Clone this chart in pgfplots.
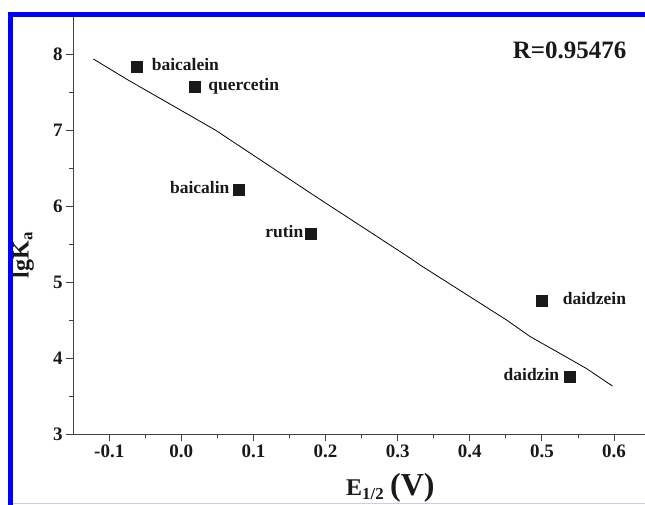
\documentclass[border=0pt]{standalone}
\usepackage{pgfplots}
\pgfplotsset{compat=1.18}
\usepackage{fontspec}
\setmainfont{Liberation Serif}
\definecolor{framebar}{RGB}{0,0,255}
\definecolor{framelight}{RGB}{200,200,255}

\begin{document}
\begin{tikzpicture}
\path[use as bounding box] (0,0) rectangle (645pt,505pt);
\clip (0,0) rectangle (645pt,505pt);
\begin{axis}[
    at={(73.2pt,71pt)}, anchor=south west,
    scale only axis, width=571.8pt, height=418pt,
    xmin=-0.15, xmax=0.643, ymin=3, ymax=8.5,
    axis lines*=left,
    axis line style={black!75, line width=0.9pt},
    tick align=outside,
    major tick length=7pt, minor tick length=4pt,
    every tick/.style={black!75, line width=0.9pt},
    xtick={-0.1,0,0.1,0.2,0.3,0.4,0.5,0.6},
    ytick={3,4,5,6,7,8},
    minor x tick num=1, minor y tick num=1,
    x tick label style={/pgf/number format/fixed,
        /pgf/number format/fixed zerofill,
        /pgf/number format/precision=1},
    /pgf/number format/assume math mode=true,
    tick label style={font=\fontsize{19}{19}\selectfont\bfseries, text=black!90},
    clip=false,
]
\addplot[black, line width=0.8pt] coordinates {
    (-0.122,7.934) (-0.074,7.658) (0.047,7.0) (0.183,6.145) (0.317,5.316)
    (0.331,5.224) (0.451,4.5) (0.484,4.28) (0.525,4.06) (0.562,3.86) (0.598,3.63)
};
\addplot[only marks, mark=square*, mark size=5.5pt, black!90] coordinates {
    (-0.062,7.83) (0.018,7.57) (0.080,6.22) (0.180,5.64) (0.500,4.75) (0.538,3.75)
};
\begin{scope}[every node/.style={font=\fontsize{17.5}{17.5}\selectfont\bfseries, inner sep=0pt, text=black!90}]
\node[anchor=base west, xshift=15pt, yshift=-4pt] at (axis cs:-0.062,7.83) {baicalein};
\node[anchor=base west, xshift=13.8pt, yshift=-4pt] at (axis cs:0.018,7.57) {quercetin};
\node[anchor=base east, xshift=-9.4pt, yshift=-4pt] at (axis cs:0.080,6.22) {baicalin};
\node[anchor=base east, xshift=-7.7pt, yshift=-4pt] at (axis cs:0.180,5.64) {rutin};
\node[anchor=base west, xshift=20.7pt, yshift=-4pt] at (axis cs:0.500,4.75) {daidzein};
\node[anchor=base east, xshift=-10pt, yshift=-4pt] at (axis cs:0.538,3.75) {daidzin};
\end{scope}
\end{axis}
\node[anchor=base west, inner sep=0pt, text=black!90, font=\fontsize{25}{25}\selectfont\bfseries]
    at (512.7pt,446.7pt) {R=0.95476};
\node[rotate=90, inner sep=0pt, text=black!90, font=\fontsize{24}{24}\selectfont\bfseries]
    at (23pt,250pt) {lgK\textsubscript{a}};
\node[anchor=base west, inner sep=0pt, text=black!90, font=\bfseries]
    at (346pt,9pt) {\fontsize{24}{24}\selectfont E\textsubscript{1/2} \fontsize{32}{32}\selectfont (V)};
\fill[framebar] (8.3pt,0) rectangle (12.7pt,493.3pt);
\fill[framebar] (8.3pt,488.3pt) rectangle (645pt,493.3pt);
\fill[framelight] (12.7pt,1pt) rectangle (645pt,2.4pt);
\end{tikzpicture}
\end{document}
